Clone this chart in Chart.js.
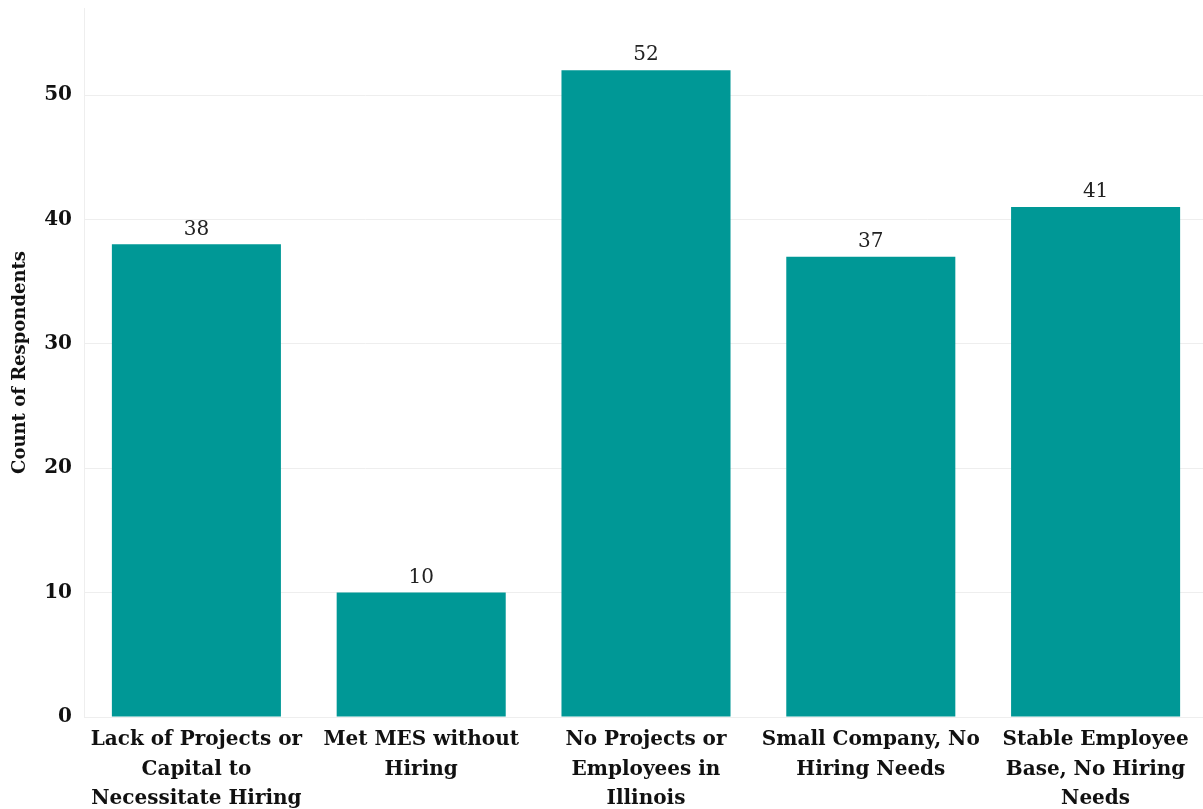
<!DOCTYPE html>
<html>
<head>
<meta charset="utf-8">
<script src="https://cdn.jsdelivr.net/npm/chart.js@4/dist/chart.umd.min.js"></script>
<style>
  html, body { margin: 0; padding: 0; background: #fff; overflow: hidden; }
  #wrap { width: 1208px; height: 809px; }
</style>
</head>
<body>
<div id="wrap"><canvas id="chart"></canvas></div>
<script>
var categories = [
    ['Lack of Projects or', 'Capital to', 'Necessitate Hiring'],
    ['Met MES without', 'Hiring'],
    ['No Projects or', 'Employees in', 'Illinois'],
    ['Small Company, No', 'Hiring Needs'],
    ['Stable Employee', 'Base, No Hiring', 'Needs']
];
var counts = [38, 10, 52, 37, 41];
var yTicks = [0, 10, 20, 30, 40, 50];

var serif = "'DejaVu Serif', 'Liberation Serif', serif";

// draws the count above each bar
var valueLabels = {
    id: 'valueLabels',
    afterDatasetsDraw: function (chart) {
        var ctx = chart.ctx;
        var meta = chart.getDatasetMeta(0);
        ctx.save();
        ctx.font = '20px ' + serif;
        ctx.fillStyle = '#222';
        ctx.textAlign = 'center';
        ctx.textBaseline = 'bottom';
        meta.data.forEach(function (bar, i) {
            ctx.fillText(counts[i], bar.x, bar.y - 5);
        });
        ctx.restore();
    }
};

new Chart(document.getElementById('chart'), {
    type: 'bar',
    data: {
        labels: categories,
        datasets: [{
            data: counts,
            backgroundColor: '#009896',
            borderWidth: 0,
            categoryPercentage: 1,
            barPercentage: 0.752
        }]
    },
    options: {
        responsive: true,
        maintainAspectRatio: false,
        animation: false,
        layout: { padding: { top: 8, right: 0, bottom: 0, left: 0 } },
        plugins: {
            legend: { display: false },
            tooltip: { enabled: false }
        },
        scales: {
            x: {
                grid: { display: false, drawTicks: false },
                border: { color: '#eeeeee' },
                ticks: {
                    color: '#111',
                    font: { family: serif, size: 20, weight: 'bold', lineHeight: 1.48 },
                    padding: 8,
                    maxRotation: 0,
                    autoSkip: false
                },
                afterFit: function (axis) { axis.height = 92; }
            },
            y: {
                min: 0,
                max: 57,
                afterBuildTicks: function (axis) {
                    axis.ticks = yTicks.map(function (v) { return { value: v }; });
                },
                grid: { color: '#eeeeee', drawTicks: false },
                border: { color: '#eeeeee' },
                ticks: {
                    color: '#111',
                    font: { family: serif, size: 20, weight: 'bold' },
                    padding: 12
                },
                title: {
                    display: true,
                    text: 'Count of Respondents',
                    color: '#111',
                    font: { family: serif, size: 18, weight: 'bold' },
                    padding: { top: 10, bottom: 0 }
                },
                afterFit: function (axis) {
                    axis.width = 84;
                    axis.paddingTop = 0;
                    axis.paddingBottom = 0;
                }
            }
        }
    },
    plugins: [valueLabels]
});
</script>
</body>
</html>
